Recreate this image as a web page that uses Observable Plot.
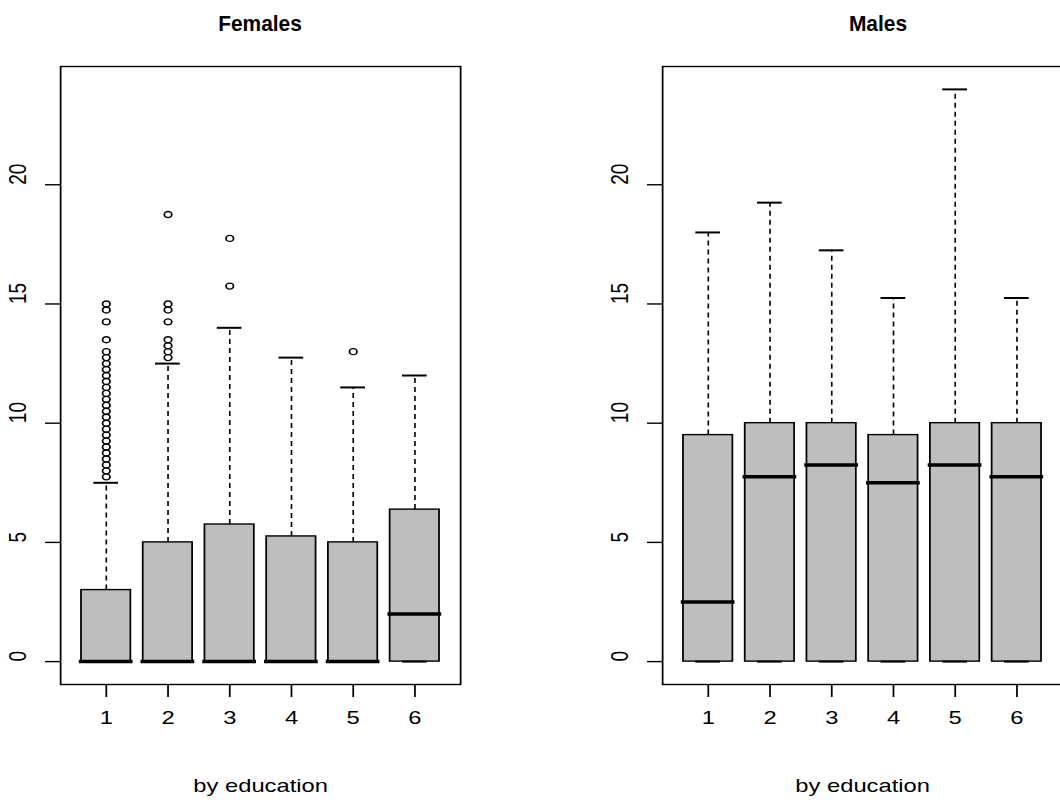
<!DOCTYPE html>
<html>
<head>
<meta charset="utf-8">
<script src="https://cdn.jsdelivr.net/npm/d3@7"></script>
<script src="https://cdn.jsdelivr.net/npm/@observablehq/plot@0.6"></script>
<style>
  html, body { margin: 0; padding: 0; background: #fff; overflow: hidden; }
  #wrap { position: relative; width: 1060px; height: 800px; overflow: hidden; background: #fff; }
  #wrap svg { position: absolute; top: 0; }
  .ttl { position: absolute; top: 10px; width: 300px; margin-left: -150px; text-align: center;
         font-family: 'Liberation Sans', Arial, Helvetica, sans-serif; font-weight: bold; font-size: 22px;
         line-height: 28px; color: #000; transform: scaleX(0.95); }
</style>
</head>
<body>
<div id="wrap"></div>
<script>
// ---- data ----
const groups = [1, 2, 3, 4, 5, 6];
const xTicks = [1, 2, 3, 4, 5, 6];
const yTicks = [0, 5, 10, 15, 20];

const femaleLower  = [0, 0, 0, 0, 0, 0];
const femaleQ1     = [0, 0, 0, 0, 0, 0];
const femaleMedian = [0, 0, 0, 0, 0, 2];
const femaleQ3     = [3, 5, 5.75, 5.25, 5, 6.375];
const femaleUpper  = [7.5, 12.5, 14, 12.75, 11.5, 12];
const femaleOutliers1 = [7.75, 8, 8.25, 8.5, 8.75, 9, 9.25, 9.5, 9.75, 10, 10.25, 10.5, 10.75, 11, 11.25, 11.5, 11.75, 12, 12.25, 12.5, 12.75, 13, 13.5, 14.25, 14.75, 15];
const femaleOutliers2 = [12.75, 13, 13.25, 13.5, 14.25, 14.75, 15, 18.75];
const femaleOutliers3 = [15.75, 17.75];
const femaleOutliers4 = [];
const femaleOutliers5 = [13];
const femaleOutliers6 = [];

const maleLower  = [0, 0, 0, 0, 0, 0];
const maleQ1     = [0, 0, 0, 0, 0, 0];
const maleMedian = [2.5, 7.75, 8.25, 7.5, 8.25, 7.75];
const maleQ3     = [9.5, 10, 10, 9.5, 10, 10];
const maleUpper  = [18, 19.25, 17.25, 15.25, 24, 15.25];
const maleOutliers = [[], [], [], [], [], []];

const titles = ["Females", "Males"];
const xLabel = "by education";

// ---- layout ----
const K = 1.25;             // horizontal stretch of the original picture
const PANEL_W = 530;        // on-screen width of each panel
const FONT = "'Liberation Sans', Arial, Helvetica, sans-serif";

function panel(lower, q1, med, q3, upper, outliers) {
  const rows = groups.map((g, i) => ({g, lo: lower[i], q1: q1[i], med: med[i], q3: q3[i], hi: upper[i]}));
  const pts = outliers.flatMap((vals, i) => vals.map(v => ({g: groups[i], v})));
  const halfBox = 0.4, halfCap = 0.2;

  const ellipse = {
    draw(ctx, size) {
      const r = Math.sqrt(size / Math.PI), k = 0.5523;
      ctx.moveTo(r, 0);
      ctx.bezierCurveTo(r, r * k, r * k, r, 0, r);
      ctx.bezierCurveTo(-r * k, r, -r, r * k, -r, 0);
      ctx.bezierCurveTo(-r, -r * k, -r * k, -r, 0, -r);
      ctx.bezierCurveTo(r * k, -r, r, -r * k, r, 0);
      ctx.closePath();
    }
  };

  const w = PANEL_W / K;
  const svg = Plot.plot({
    width: w,
    height: 800,
    marginLeft: 60 / K,
    marginRight: (PANEL_W - 460) / K,
    marginTop: 66,
    marginBottom: 116,
    style: {fontFamily: FONT, color: "black", background: "white", overflow: "visible"},
    x: {type: "linear", domain: [0.26, 6.74]},
    y: {type: "linear", domain: [-0.96, 24.96]},
    marks: [
      // whiskers (dashed)
      Plot.ruleX(rows, {x: "g", y1: "q3", y2: "hi", stroke: "black", strokeWidth: 1.3, strokeDasharray: "5,4"}),
      Plot.ruleX(rows, {x: "g", y1: "lo", y2: "q1", stroke: "black", strokeWidth: 1.3, strokeDasharray: "5,4"}),
      // boxes
      Plot.rect(rows, {x1: d => d.g - halfBox, x2: d => d.g + halfBox, y1: "q1", y2: "q3",
        fill: "#bebebe", stroke: "black", strokeWidth: 1.4}),
      // staples
      Plot.ruleY(rows, {y: "hi", x1: d => d.g - halfCap, x2: d => d.g + halfCap, stroke: "black", strokeWidth: 2}),
      Plot.ruleY(rows, {y: "lo", x1: d => d.g - halfCap, x2: d => d.g + halfCap, stroke: "black", strokeWidth: 2}),
      // medians
      Plot.ruleY(rows, {y: "med", x1: d => d.g - halfBox, x2: d => d.g + halfBox, stroke: "black",
        strokeWidth: 3.5, strokeLinecap: "square"}),
      // outliers
      Plot.dot(pts, {x: "g", y: "v", r: 3, symbol: ellipse, stroke: "black", strokeWidth: 1.4, fill: "none"}),
      // frame
      Plot.frame({stroke: "black", strokeWidth: 1.4}),
      // axes
      Plot.axisX({ticks: xTicks, tickSize: 13, tickPadding: 13, fontSize: 19, label: null, strokeWidth: 1.4,
        tickFormat: d => String(d)}),
      Plot.axisY({ticks: yTicks, tickSize: 15 / K, tickFormat: () => "", label: null, strokeWidth: 1.4}),
      Plot.text(yTicks, {y: d => d, text: d => String(d), frameAnchor: "left", dx: -42 / K,
        rotate: -90, fontSize: 19, fill: "black"}),
      // x label
      Plot.text([xLabel], {text: d => d, frameAnchor: "bottom", dy: 107, fontSize: 19, fill: "black"})
    ]
  });
  svg.setAttribute("viewBox", `0 0 ${w} 800`);
  svg.setAttribute("width", PANEL_W);
  svg.setAttribute("height", 800);
  svg.setAttribute("preserveAspectRatio", "none");
  return svg;
}

function addTitle(text, cx) {
  const d = document.createElement("div");
  d.className = "ttl";
  d.textContent = text;
  d.style.left = cx + "px";
  wrap.appendChild(d);
}

const wrap = document.getElementById("wrap");
const left = panel(femaleLower, femaleQ1, femaleMedian, femaleQ3, femaleUpper,
  [femaleOutliers1, femaleOutliers2, femaleOutliers3, femaleOutliers4, femaleOutliers5, femaleOutliers6]);
left.style.left = "0px";
wrap.appendChild(left);
const right = panel(maleLower, maleQ1, maleMedian, maleQ3, maleUpper, maleOutliers);
right.style.left = "602px";
wrap.appendChild(right);
addTitle(titles[0], 260);
addTitle(titles[1], 878);
</script>
</body>
</html>
